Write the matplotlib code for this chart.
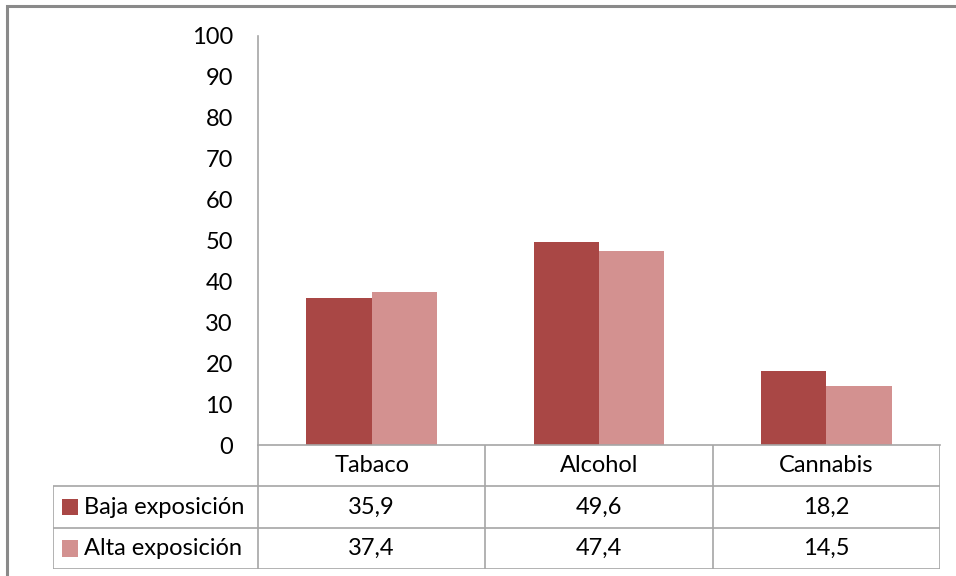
import matplotlib
matplotlib.use("Agg")
import matplotlib.pyplot as plt
from matplotlib.patches import Rectangle
import numpy as np

categories = ["Tabaco", "Alcohol", "Cannabis"]
series_names = ["Baja exposición", "Alta exposición"]
baja = [35.9, 49.6, 18.2]
alta = [37.4, 47.4, 14.5]
yticks = [0, 10, 20, 30, 40, 50, 60, 70, 80, 90, 100]

colors = ["#A94745", "#D39190"]
grid_c = "#A6A6A6"
FONT = "Lato"
FS = 17

W, H = 956, 576
fig = plt.figure(figsize=(W / 100, H / 100), dpi=100)
fig.patch.set_facecolor("white")

# outer frame
fig.patches.append(Rectangle((7 / W, -0.05), 1.1, 1 - 6 / H + 0.05, transform=fig.transFigure,
                             fill=False, edgecolor="#8A8A8A", linewidth=2.2))

ax_l, ax_r, ax_t, ax_b = 258, 940, 36, 445
ax = fig.add_axes([ax_l / W, 1 - ax_b / H, (ax_r - ax_l) / W, (ax_b - ax_t) / H])
x = np.arange(len(categories))
bw = 0.287
ax.bar(x - bw / 2, baja, bw, color=colors[0], edgecolor="none")
ax.bar(x + bw / 2, alta, bw, color=colors[1], edgecolor="none")
ax.set_xlim(-0.5, len(categories) - 0.5)
ax.set_ylim(0, 100)
ax.set_yticks(yticks)
ax.set_yticklabels([str(t) for t in yticks], fontfamily=FONT, fontsize=FS)
ax.tick_params(axis="y", length=0, pad=18)
ax.set_xticks([])
for s in ["top", "right"]:
    ax.spines[s].set_visible(False)
for s in ["left", "bottom"]:
    ax.spines[s].set_color(grid_c)
    ax.spines[s].set_linewidth(1.2)
ax.patch.set_alpha(0)

# data table
ppu = (ax_r - ax_l) / len(categories)
tab_left = 53
tab_bottom = 569
left_units = -0.5 - (ax_l - tab_left) / ppu
tax = fig.add_axes([tab_left / W, 1 - tab_bottom / H, (ax_r - tab_left) / W, (tab_bottom - ax_b) / H])
nrows = 1 + len(series_names)
tax.set_xlim(left_units, len(categories) - 0.5)
tax.set_ylim(nrows, 0)
tax.axis("off")
lk = dict(color=grid_c, linewidth=1.2, solid_capstyle="butt")
# horizontal lines
for r in range(1, nrows + 1):
    tax.plot([left_units, len(categories) - 0.5], [r, r], **lk)
# vertical lines
for c in range(len(categories) + 1):
    tax.plot([c - 0.5, c - 0.5], [0, nrows], **lk)
tax.plot([left_units, left_units], [1, nrows], **lk)

for i, cat in enumerate(categories):
    tax.text(i, 0.5, cat, ha="center", va="center", fontfamily=FONT, fontsize=FS)
for r, (name, vals) in enumerate(zip(series_names, [baja, alta])):
    yy = r + 1.5
    for i, v in enumerate(vals):
        tax.text(i, yy, f"{v:.1f}".replace(".", ","), ha="center", va="center",
                 fontfamily=FONT, fontsize=FS)
    mk = 16 / ppu
    mx = left_units + 9 / ppu
    tax.add_patch(Rectangle((mx, yy - 0.2), mk, 0.4, facecolor=colors[r], edgecolor="none"))
    tax.text(left_units + 31 / ppu, yy, name, ha="left", va="center",
             fontfamily=FONT, fontsize=FS)

fig.savefig("out.png", dpi=100)
